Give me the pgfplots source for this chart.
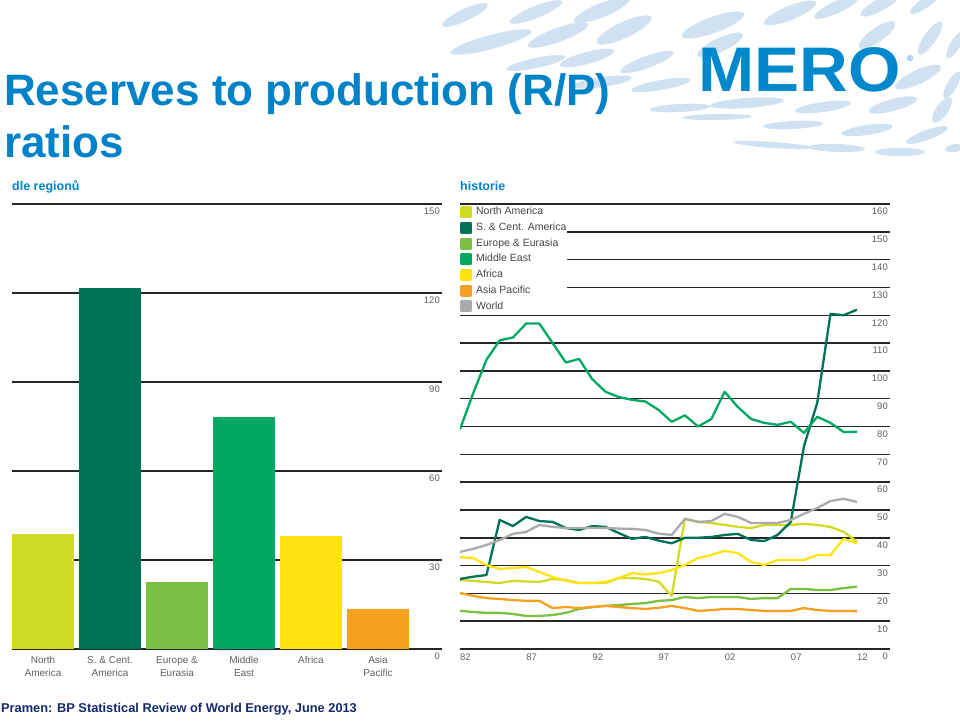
\documentclass[border=0pt]{standalone}
\usepackage{pgfplots}
\pgfplotsset{compat=1.18}
\usepackage{pgfplotstable}
\usepackage{fontspec}
\setmainfont{Liberation Sans}
\definecolor{cNA}{RGB}{208,219,38}
\definecolor{cSCA}{RGB}{0,114,86}
\definecolor{cEU}{RGB}{124,192,67}
\definecolor{cME}{RGB}{0,168,98}
\definecolor{cAF}{RGB}{255,228,17}
\definecolor{cAP}{RGB}{245,160,30}
\definecolor{cW}{RGB}{170,170,170}
\definecolor{titleblue}{RGB}{0,130,200}
\definecolor{logoblue}{RGB}{0,136,204}
\definecolor{footblue}{RGB}{20,40,110}
\definecolor{deco}{RGB}{208,225,241}
\definecolor{ticktext}{RGB}{95,95,95}
\definecolor{legtext}{RGB}{70,70,70}

\pgfplotstableread{
year NA SCA EU ME AF AP W
1982 24.8 25.2 13.7 79.0 33.0 20.1 34.9
1983 24.5 26.0 13.3 92.0 32.7 19.1 36.0
1984 24.1 26.6 13.0 104.0 30.2 18.3 37.4
1985 23.7 46.4 13.0 111.0 28.8 18.0 39.2
1986 24.5 44.2 12.6 112.0 29.1 17.6 41.4
1987 24.3 47.5 11.9 117.0 29.5 17.3 42.1
1988 24.1 46.0 11.9 117.0 27.7 17.3 44.6
1989 25.2 45.7 12.2 110.0 25.9 14.7 43.9
1990 24.8 43.5 13.0 103.0 24.5 15.1 43.5
1991 23.7 42.8 14.4 104.3 23.7 14.7 43.5
1992 23.7 44.2 15.1 97.0 23.7 15.1 43.5
1993 23.7 43.9 15.5 92.5 24.1 15.5 43.5
1994 25.5 41.7 15.8 90.6 25.5 15.1 43.3
1995 25.5 39.6 16.2 89.6 27.3 14.7 43.2
1996 25.2 40.3 16.5 89.0 26.8 14.4 42.8
1997 24.3 39.0 17.3 86.0 27.3 14.8 41.5
1998 19.1 38.0 17.6 81.7 28.4 15.5 41.0
1999 46.8 40.0 18.7 84.0 30.2 14.7 46.8
2000 45.7 40.0 18.3 80.0 32.7 13.7 45.7
2001 45.3 40.3 18.7 82.7 33.8 14.0 46.0
2002 44.6 41.0 18.7 92.5 35.3 14.4 48.6
2003 43.9 41.4 18.7 87.0 34.5 14.4 47.5
2004 43.5 39.2 18.0 82.7 31.3 14.0 45.3
2005 44.6 38.8 18.3 81.3 30.2 13.7 45.3
2006 44.6 41.0 18.3 80.6 32.0 13.7 45.3
2007 44.6 45.7 21.6 81.7 32.0 13.7 46.4
2008 45.0 73.0 21.6 77.7 32.0 14.7 48.6
2009 44.6 88.5 21.2 83.5 33.8 14.0 50.7
2010 43.9 120.5 21.2 81.3 33.8 13.7 53.2
2011 42.1 120.0 21.9 78.0 39.6 13.7 54.0
2012 38.6 122.0 22.4 78.1 38.0 13.6 52.9
}\rptable

\begin{document}
\begin{tikzpicture}
\useasboundingbox (0pt,0pt) rectangle (960pt,-722pt);
% decorative background swirl
\foreach \x/\y/\a/\b/\r in {
465/15/25/6/25, 536/12/28/6/22, 602/10/30/7/22, 713/25/33/8/20, 790/13/28/7/22,
837/7/25/6/25, 880/5/22/6/28, 925/3/18/5/35,
491/42/42/7/15, 558/35/32/7/20, 624/30/30/8/25, 720/45/25/7/25, 877/35/22/7/35,
930/38/20/6/55, 955/45/15/5/60,
536/63/30/5/12, 587/58/28/6/15, 647/62/28/6/20, 602/82/30/5/8, 661/85/30/5/10,
918/77/25/7/25, 952/85/15/5/60,
747/103/37/5/4, 823/107/28/5/8, 893/105/25/6/15, 942/110/15/6/55, 680/108/30/4/3,
717/117/35/3/1, 793/125/30/4/3, 867/130/26/5/8, 927/135/22/5/20, 773/145/40/3/-4,
837/148/28/4/-2, 900/152/25/4/0, 955/148/10/4/10}
{\fill[deco] (\x pt,-\y pt) circle [x radius=\a pt, y radius=\b pt, rotate=\r];}

% title
\node[anchor=base west, inner sep=0pt, text=titleblue, font=\fontsize{44}{52}\selectfont\bfseries] at (4pt,-106pt) {Reserves to production (R/P)};
\node[anchor=base west, inner sep=0pt, text=titleblue, font=\fontsize{44}{52}\selectfont\bfseries] at (4pt,-158pt) {ratios};
% logo
\node[anchor=south west, inner sep=0pt, text=logoblue, font=\fontsize{63}{63}\selectfont\bfseries, xscale=1.07] at (698pt,-92pt) {MERO};
\node[anchor=center, inner sep=0pt, text=logoblue, font=\fontsize{8}{8}\selectfont] at (910pt,-59pt) {®};
% subtitles
\node[anchor=base west, inner sep=0pt, text=titleblue, font=\fontsize{12.5}{14}\selectfont\bfseries] at (12pt,-190pt) {dle regionů};
\node[anchor=base west, inner sep=0pt, text=titleblue, font=\fontsize{12.5}{14}\selectfont\bfseries] at (460pt,-190pt) {historie};
% footer
\node[anchor=base west, inner sep=0pt, text=footblue, font=\fontsize{12.8}{14}\selectfont\bfseries] at (1pt,-712pt) {Pramen: BP Statistical Review of World Energy, June 2013};

% left: bars by region
\begin{axis}[
  at={(12pt,-649pt)}, anchor=south west,
  scale only axis, width=430pt, height=445pt,
  xmin=-0.463, xmax=5.955, ymin=0, ymax=150,
  ytick={0,30,60,90,120,150}, yticklabels={0,30,60,90,120,150},
  yticklabel pos=right,
  yticklabel style={anchor=north east, inner sep=0pt, xshift=-2pt, yshift=-4pt,
    font=\fontsize{9.5}{10}\selectfont, text=ticktext},
  xtick={0,1,2,3,4,5},
  xticklabels={{North\\America},{S. \& Cent.\\America},{Europe \&\\Eurasia},{Middle\\East},{Africa},{Asia\\Pacific}},
  xticklabel style={align=center, anchor=north, inner sep=0pt, yshift=-7pt,
    font=\fontsize{10}{13}\selectfont, text=ticktext},
  major tick length=0pt,
  axis line style={draw=none},
  ymajorgrids, grid style={black!85, line width=1.5pt},
]
\addplot[ybar, bar width=62pt, bar shift=0pt, fill=cNA, draw=none] coordinates {(0,38.6)};
\addplot[ybar, bar width=62pt, bar shift=0pt, fill=cSCA, draw=none] coordinates {(1,121.6)};
\addplot[ybar, bar width=62pt, bar shift=0pt, fill=cEU, draw=none] coordinates {(2,22.5)};
\addplot[ybar, bar width=62pt, bar shift=0pt, fill=cME, draw=none] coordinates {(3,78.3)};
\addplot[ybar, bar width=62pt, bar shift=0pt, fill=cAF, draw=none] coordinates {(4,38.0)};
\addplot[ybar, bar width=62pt, bar shift=0pt, fill=cAP, draw=none] coordinates {(5,13.4)};
\end{axis}

% right: history
\begin{axis}[
  at={(460pt,-649pt)}, anchor=south west,
  scale only axis, width=430pt, height=445pt,
  xmin=1982, xmax=2014.5, ymin=0, ymax=160,
  ytick={0,10,20,30,40,50,60,70,80,90,100,110,120,130,140,150,160},
  yticklabels={0,10,20,30,40,50,60,70,80,90,100,110,120,130,140,150,160},
  yticklabel pos=right,
  yticklabel style={anchor=north east, inner sep=0pt, xshift=-2pt, yshift=-4pt,
    font=\fontsize{9.5}{10}\selectfont, text=ticktext},
  xtick={1982,1987,1992,1997,2002,2007,2012},
  xticklabels={82,87,92,97,02,07,12},
  xticklabel style={anchor=north west, inner sep=0pt, yshift=-5pt,
    font=\fontsize{9.5}{10}\selectfont, text=ticktext},
  major tick length=0pt,
  axis line style={draw=none},
  ymajorgrids, grid style={black!85, line width=1.5pt},
  legend style={at={(0,1)}, anchor=north west, yshift=-2pt, fill=white, draw=none,
    inner sep=0pt, font=\fontsize{10.5}{12}\selectfont, text=legtext,
    nodes={inner sep=0.6pt, text height=7.6pt, text depth=2.2pt}, row sep=3.8pt},
  legend cell align=left,
  legend image code/.code={\fill[#1] (0pt,-4.8pt) rectangle (9.6pt,4.8pt); \path (13pt,0pt);},
  every axis plot/.append style={line width=2.3pt, line join=round},
]
\addplot[color=cNA] table[x=year, y=NA] {\rptable};
\addlegendentry{North America}
\addplot[color=cSCA] table[x=year, y=SCA] {\rptable};
\addlegendentry{S. \& Cent. America}
\addplot[color=cEU] table[x=year, y=EU] {\rptable};
\addlegendentry{Europe \& Eurasia}
\addplot[color=cME] table[x=year, y=ME] {\rptable};
\addlegendentry{Middle East}
\addplot[color=cAF] table[x=year, y=AF] {\rptable};
\addlegendentry{Africa}
\addplot[color=cAP] table[x=year, y=AP] {\rptable};
\addlegendentry{Asia Pacific}
\addplot[color=cW] table[x=year, y=W] {\rptable};
\addlegendentry{World}
\end{axis}
\end{tikzpicture}
\end{document}
